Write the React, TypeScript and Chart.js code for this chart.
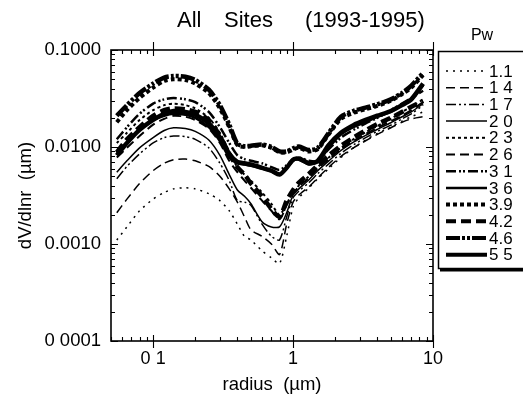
import React, { useEffect, useRef } from "react";
import { Chart, registerables } from "chart.js";

Chart.register(...registerables);

// radius (µm)
const RADIUS = [0.055, 0.065, 0.08, 0.1, 0.12, 0.14, 0.17, 0.2, 0.25, 0.3, 0.35, 0.4, 0.45, 0.5, 0.6, 0.7, 0.8, 0.9, 1.0, 1.1, 1.3, 1.5, 1.8, 2.2, 2.7, 3.3, 4, 5, 6, 7, 8.5];

const PW_1_1 = [0.0011, 0.0015, 0.0022, 0.0029, 0.0034, 0.0037, 0.0038, 0.0037, 0.0033, 0.0028, 0.0022, 0.0016, 0.0012, 0.0011, 0.00085, 0.00072, 0.00063, 0.0012, 0.0024, 0.003, 0.0038, 0.0047, 0.006, 0.0078, 0.0098, 0.0118, 0.0138, 0.016, 0.0185, 0.0205, 0.023];
const PW_1_4 = [0.0021, 0.0029, 0.0042, 0.0057, 0.0068, 0.0074, 0.0075, 0.0072, 0.0063, 0.005, 0.0037, 0.0027, 0.0019, 0.0014, 0.0012, 0.001, 0.00078, 0.0016, 0.0027, 0.0032, 0.0039, 0.0048, 0.0062, 0.008, 0.0098, 0.0116, 0.0135, 0.0158, 0.018, 0.0195, 0.0205];
const PW_1_7 = [0.0047, 0.0063, 0.0085, 0.011, 0.0125, 0.013, 0.0128, 0.012, 0.0098, 0.0068, 0.0045, 0.0028, 0.0027, 0.0025, 0.0016, 0.0012, 0.0011, 0.0019, 0.003, 0.0035, 0.0043, 0.0053, 0.0067, 0.0086, 0.0105, 0.0125, 0.0145, 0.0168, 0.0195, 0.022, 0.027];
const PW_2_0 = [0.0055, 0.0072, 0.0098, 0.0125, 0.0148, 0.0158, 0.0155, 0.0145, 0.0118, 0.0082, 0.0052, 0.0036, 0.0031, 0.0026, 0.0017, 0.0015, 0.0015, 0.0021, 0.0032, 0.0037, 0.0046, 0.0057, 0.0072, 0.0092, 0.0112, 0.0132, 0.0152, 0.0178, 0.0205, 0.023, 0.028];
const PW_2_3 = [0.011, 0.014, 0.019, 0.024, 0.027, 0.028, 0.027, 0.025, 0.02, 0.014, 0.009, 0.0062, 0.0052, 0.0045, 0.0034, 0.0026, 0.002, 0.0026, 0.0034, 0.004, 0.005, 0.0062, 0.0078, 0.0098, 0.012, 0.0142, 0.0165, 0.0195, 0.023, 0.026, 0.031];
const PW_2_6 = [0.0078, 0.0098, 0.013, 0.017, 0.0195, 0.021, 0.0205, 0.019, 0.0155, 0.011, 0.0072, 0.0055, 0.0045, 0.0038, 0.0028, 0.0022, 0.0018, 0.0025, 0.0033, 0.0039, 0.0048, 0.006, 0.0075, 0.0095, 0.0115, 0.0136, 0.0158, 0.0185, 0.021, 0.024, 0.029];
const PW_3_1 = [0.012, 0.016, 0.022, 0.028, 0.031, 0.032, 0.031, 0.029, 0.023, 0.016, 0.011, 0.0082, 0.0075, 0.0072, 0.0068, 0.0062, 0.0058, 0.0065, 0.0075, 0.0078, 0.0072, 0.0072, 0.0095, 0.0125, 0.015, 0.0175, 0.02, 0.024, 0.028, 0.032, 0.038];
const PW_3_6 = [0.0085, 0.011, 0.015, 0.019, 0.021, 0.022, 0.0215, 0.02, 0.016, 0.0115, 0.0078, 0.0068, 0.0066, 0.0064, 0.006, 0.0056, 0.0052, 0.006, 0.0072, 0.0074, 0.0066, 0.007, 0.0098, 0.0135, 0.016, 0.018, 0.0205, 0.023, 0.027, 0.031, 0.043];
const PW_3_9 = [0.018, 0.024, 0.032, 0.041, 0.048, 0.05, 0.049, 0.045, 0.036, 0.025, 0.016, 0.0105, 0.01, 0.0102, 0.0104, 0.0098, 0.0088, 0.0088, 0.0094, 0.0098, 0.009, 0.0095, 0.0135, 0.0195, 0.0225, 0.0245, 0.0265, 0.03, 0.035, 0.041, 0.055];
const PW_4_2 = [0.0088, 0.012, 0.016, 0.021, 0.024, 0.025, 0.0245, 0.023, 0.019, 0.013, 0.0085, 0.0062, 0.0052, 0.0042, 0.0031, 0.0023, 0.0019, 0.0028, 0.0036, 0.0043, 0.0053, 0.0065, 0.0082, 0.0103, 0.0125, 0.0148, 0.0172, 0.02, 0.023, 0.026, 0.03];
const PW_4_6 = [0.021, 0.027, 0.036, 0.045, 0.052, 0.054, 0.053, 0.049, 0.039, 0.027, 0.017, 0.0108, 0.0102, 0.0103, 0.0106, 0.01, 0.009, 0.009, 0.0097, 0.0101, 0.0093, 0.0098, 0.014, 0.0205, 0.0235, 0.0255, 0.0275, 0.031, 0.036, 0.043, 0.058];
const PW_5_5 = [0.0082, 0.011, 0.015, 0.019, 0.022, 0.0235, 0.023, 0.0215, 0.0175, 0.0125, 0.0085, 0.007, 0.0068, 0.0066, 0.0061, 0.0057, 0.0052, 0.0061, 0.0074, 0.0076, 0.0068, 0.0072, 0.0105, 0.014, 0.0168, 0.019, 0.021, 0.0235, 0.027, 0.031, 0.045];

const SERIES_LABELS = ["1.1", "1 4", "1 7", "2 0", "2 3", "2 6", "3 1", "3 6", "3.9", "4.2", "4.6", "5 5"];
const SERIES_VALUES = [PW_1_1, PW_1_4, PW_1_7, PW_2_0, PW_2_3, PW_2_6, PW_3_1, PW_3_6, PW_3_9, PW_4_2, PW_4_6, PW_5_5];
const SERIES_WIDTHS = [1.5, 1.5, 1.5, 1.5, 2, 2, 2.5, 2.5, 4, 4.5, 4.5, 4.5];
const SERIES_DASHES: number[][] = [
  [2, 5],
  [9, 5],
  [10, 3, 2, 3, 2, 3],
  [],
  [3, 3],
  [9, 5],
  [10, 3, 2, 2, 2, 3],
  [],
  [4, 3],
  [10, 5],
  [14, 2, 3, 2, 3, 2],
  [],
];

const X_TICK_LABELS: Record<string, string> = { "0.1": "0 1", "1": "1", "10": "10" };
const Y_TICK_LABELS: Record<string, string> = { "0.1": "0.1000", "0.01": "0.0100", "0.001": "0.0010", "0.0001": "0 0001" };

const TITLE_PARTS = ["All", "Sites", "(1993-1995)"];
const X_TITLE = "radius  (\u00b5m)";
const Y_TITLE = "dV/dlnr  (\u00b5m)";
const LEGEND_TITLE = "Pw";

const FONT = "'Liberation Sans', Arial, Helvetica, sans-serif";

function logTicks(min: number, max: number) {
  const out: { value: number; major: boolean }[] = [];
  for (let e = -6; e <= 3; e++) {
    for (let k = 1; k <= 9; k++) {
      const v = parseFloat((k * Math.pow(10, e)).toPrecision(6));
      if (v >= min * 0.9999 && v <= max * 1.0001) out.push({ value: v, major: k === 1 });
    }
  }
  return out;
}

const framePlugin = {
  id: "framePlugin",
  afterDraw(chart: any) {
    const ctx = chart.ctx as CanvasRenderingContext2D;
    const { left, right, top, bottom } = chart.chartArea;
    const xs = chart.scales.x;
    const ys = chart.scales.y;
    ctx.save();
    ctx.strokeStyle = "#000";
    ctx.fillStyle = "#000";
    ctx.setLineDash([]);
    ctx.lineWidth = 1.6;
    ctx.strokeRect(left, top, right - left, bottom - top);
    ctx.lineWidth = 1.1;
    ctx.beginPath();
    for (const t of xs.ticks) {
      const px = Math.round(xs.getPixelForValue(t.value)) + 0.5;
      if (t.major) {
        ctx.moveTo(px, bottom + 7); ctx.lineTo(px, bottom - 6);
        ctx.moveTo(px, top - 8); ctx.lineTo(px, top + 6);
      } else {
        ctx.moveTo(px, bottom); ctx.lineTo(px, bottom - 4);
        ctx.moveTo(px, top); ctx.lineTo(px, top + 4);
      }
    }
    for (const t of ys.ticks) {
      const py = Math.round(ys.getPixelForValue(t.value)) + 0.5;
      const len = t.major ? 7 : 4;
      ctx.moveTo(left, py); ctx.lineTo(left + len, py);
      ctx.moveTo(right, py); ctx.lineTo(right - len, py);
    }
    ctx.stroke();

    // title
    ctx.font = `22px ${FONT}`;
    ctx.textAlign = "left";
    ctx.textBaseline = "middle";
    ctx.fillText(TITLE_PARTS[0], 177, 21);
    ctx.fillText(TITLE_PARTS[1], 224, 21);
    ctx.fillText(TITLE_PARTS[2], 305, 21);

    // legend
    ctx.textAlign = "center";
    ctx.font = `16px ${FONT}`;
    ctx.fillText(LEGEND_TITLE, 482, 36);
    ctx.lineWidth = 1.5;
    ctx.strokeRect(438.5, 51.5, 120, 217);
    ctx.fillRect(440, 268, 90, 3.5);
    const ds = chart.data.datasets;
    ctx.textAlign = "left";
    ctx.font = `17px ${FONT}`;
    for (let i = 0; i < ds.length; i++) {
      const y = 71 + i * 16.7;
      ctx.beginPath();
      ctx.setLineDash(ds[i].borderDash || []);
      ctx.lineWidth = Math.min(ds[i].borderWidth, 4);
      ctx.moveTo(446, y);
      ctx.lineTo(487, y);
      ctx.stroke();
      ctx.setLineDash([]);
      ctx.fillText(ds[i].label, 489, y + 1);
    }
    ctx.restore();
  },
};

export default function App() {
  const ref = useRef<HTMLCanvasElement | null>(null);
  useEffect(() => {
    if (!ref.current) return;
    const datasets = SERIES_VALUES.map((vals, i) => ({
      label: SERIES_LABELS[i],
      data: RADIUS.map((r, j) => ({ x: r, y: vals[j] })),
      borderColor: "#000",
      backgroundColor: "#000",
      borderWidth: SERIES_WIDTHS[i],
      borderDash: SERIES_DASHES[i],
      pointRadius: 0,
      tension: 0.25,
      fill: false,
    }));
    const chart = new Chart(ref.current, {
      type: "line",
      data: { datasets },
      plugins: [framePlugin],
      options: {
        responsive: false,
        animation: false,
        layout: { padding: { top: 50, right: 90, left: 0, bottom: 0 } },
        plugins: { legend: { display: false }, tooltip: { enabled: false }, title: { display: false } },
        scales: {
          x: {
            type: "logarithmic",
            min: 0.05,
            max: 10,
            afterBuildTicks: (s: any) => { s.ticks = logTicks(0.05, 10); },
            afterFit: (s: any) => { s.height = 55; },
            grid: { display: false, drawTicks: false },
            border: { display: false },
            ticks: {
              autoSkip: false,
              maxRotation: 0,
              minRotation: 0,
              padding: 7,
              color: "#000",
              font: { family: FONT, size: 18 },
              callback: (v: any) => X_TICK_LABELS[String(v)] ?? "",
            },
            title: { display: true, text: X_TITLE, color: "#000", font: { family: FONT, size: 18.5 }, padding: { top: 0, bottom: 0 } },
          },
          y: {
            type: "logarithmic",
            min: 0.0001,
            max: 0.1,
            afterBuildTicks: (s: any) => { s.ticks = logTicks(0.0001, 0.1); },
            afterFit: (s: any) => { s.width = 111; },
            grid: { display: false, drawTicks: false },
            border: { display: false },
            ticks: {
              autoSkip: false,
              padding: 10,
              color: "#000",
              font: { family: FONT, size: 18.5 },
              callback: (v: any) => Y_TICK_LABELS[String(v)] ?? "",
            },
            title: { display: true, text: Y_TITLE, color: "#000", font: { family: FONT, size: 18.5 }, padding: { top: 15, bottom: 0 } },
          },
        },
      } as any,
    });
    return () => chart.destroy();
  }, []);
  return (
    <div style={{ position: "absolute", left: 0, top: 0, width: 523, height: 396, background: "#fff" }}>
      <canvas ref={ref} width={523} height={396} />
    </div>
  );
}
